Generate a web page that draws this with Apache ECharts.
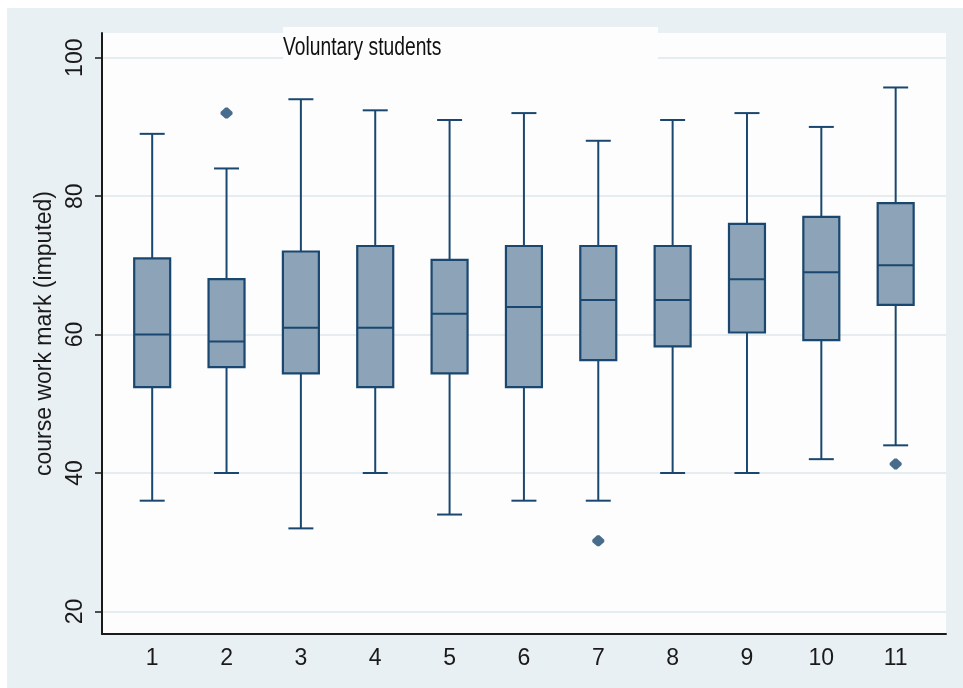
<!DOCTYPE html>
<html>
<head>
<meta charset="utf-8">
<title>Course work mark by group</title>
<script src="https://cdn.jsdelivr.net/npm/echarts@6/dist/echarts.min.js"></script>
<style>
  html, body { margin: 0; padding: 0; background: #ffffff; }
  #chart { position: absolute; left: 0; top: 0; width: 963px; height: 688px; }
</style>
</head>
<body>
<div id="chart"></div>
<script>
// Group numbers along the horizontal axis
const groups = [1, 2, 3, 4, 5, 6, 7, 8, 9, 10, 11];
// Five-number summaries per group (course work mark, imputed)
const lowerWhisker = [36, 40, 32, 40, 34, 36, 36, 40, 40, 42, 44];
const lowerQuartile = [52.4, 55.3, 54.4, 52.4, 54.4, 52.4, 56.3, 58.3, 60.3, 59.2, 64.3];
const medians = [60, 59, 61, 61, 63, 64, 65, 65, 68, 69, 70];
const upperQuartile = [71, 68, 72, 72.8, 70.8, 72.8, 72.8, 72.8, 76, 77, 79];
const upperWhisker = [89, 84, 94, 92.4, 91, 92, 88, 91, 92, 90, 95.7];
// Outside values: group and mark
const outlierGroups = [2, 7, 11];
const outlierMarks = [92, 30.2, 41.3];
// Y axis tick labels
const yTicks = [20, 40, 60, 80, 100];

const boxData = groups.map((g, i) => [
  g, lowerWhisker[i], lowerQuartile[i], medians[i], upperQuartile[i], upperWhisker[i]
]);
const outlierData = outlierGroups.map((g, i) => [g, outlierMarks[i]]);

const LINE = '#1a476f';
const FILL = '#8da3b7';

function renderBox(params, api) {
  const x = api.value(0);
  const lo = api.coord([x, api.value(1)]);
  const b1 = api.coord([x, api.value(2)]);
  const md = api.coord([x, api.value(3)]);
  const b3 = api.coord([x, api.value(4)]);
  const hi = api.coord([x, api.value(5)]);
  const boxW = api.size([0.484, 0])[0];
  const capW = api.size([0.336, 0])[0];
  const ls = { stroke: LINE, lineWidth: 2, fill: null };
  const cx = lo[0];
  return {
    type: 'group',
    children: [
      { type: 'line', shape: { x1: cx, y1: lo[1], x2: cx, y2: b1[1] }, style: ls },
      { type: 'line', shape: { x1: cx, y1: b3[1], x2: cx, y2: hi[1] }, style: ls },
      { type: 'line', shape: { x1: cx - capW / 2, y1: lo[1], x2: cx + capW / 2, y2: lo[1] }, style: ls },
      { type: 'line', shape: { x1: cx - capW / 2, y1: hi[1], x2: cx + capW / 2, y2: hi[1] }, style: ls },
      {
        type: 'rect',
        shape: { x: cx - boxW / 2, y: b3[1], width: boxW, height: b1[1] - b3[1] },
        style: { fill: FILL, stroke: LINE, lineWidth: 2.2 }
      },
      { type: 'line', shape: { x1: cx - boxW / 2, y1: md[1], x2: cx + boxW / 2, y2: md[1] }, style: ls }
    ]
  };
}

const chart = echarts.init(document.getElementById('chart'), null, { renderer: 'canvas' });

chart.setOption({
  animation: false,
  backgroundColor: '#e9f0f3',
  textStyle: { fontFamily: "'Liberation Sans', Arial, sans-serif" },
  graphic: [
    { type: 'rect', z: -10, silent: true, shape: { x: 0, y: 0, width: 963, height: 8 }, style: { fill: '#ffffff' } },
    { type: 'rect', z: -10, silent: true, shape: { x: 0, y: 0, width: 7, height: 688 }, style: { fill: '#ffffff' } },
    // title box sitting on top of the plot region
    { type: 'rect', z: 1, silent: true, shape: { x: 283, y: 27, width: 375, height: 34 }, style: { fill: '#fdfdfd' } },
    {
      type: 'text',
      z: 10,
      silent: true,
      x: 283,
      y: 35,
      scaleX: 0.74,
      style: {
        text: 'Voluntary students',
        font: "26px 'Liberation Sans', Arial, sans-serif",
        fill: '#111111',
        align: 'left',
        verticalAlign: 'top'
      }
    }
  ],
  grid: {
    left: 102,
    right: 17,
    top: 33,
    bottom: 54,
    show: true,
    backgroundColor: '#fdfdfd',
    borderWidth: 0
  },
  xAxis: {
    type: 'value',
    min: 0.325,
    max: 11.677,
    axisLine: { show: true, onZero: false, lineStyle: { color: '#1a1a1a', width: 2 } },
    axisTick: { show: false, customValues: groups },
    splitLine: { show: false },
    axisLabel: {
      customValues: groups,
      fontSize: 23,
      color: '#1a1a1a',
      margin: 13
    }
  },
  yAxis: {
    type: 'value',
    min: 16.74,
    max: 103.57,
    name: 'course work mark (imputed)',
    nameLocation: 'middle',
    nameRotate: 90,
    nameGap: 43,
    nameTextStyle: { fontSize: 23, color: '#1a1a1a' },
    axisLine: { show: true, onZero: false, lineStyle: { color: '#1a1a1a', width: 2 } },
    axisTick: { show: true, length: 7, customValues: yTicks, lineStyle: { color: '#1a1a1a', width: 1.5 } },
    splitLine: { show: true, lineStyle: { color: '#e6edf1', width: 2 } },
    axisLabel: {
      customValues: yTicks,
      rotate: 90,
      fontSize: 23,
      color: '#1a1a1a',
      margin: 15
    }
  },
  series: [
    {
      type: 'custom',
      name: 'course work mark',
      renderItem: renderBox,
      encode: { x: 0, y: [1, 2, 3, 4, 5] },
      data: boxData,
      z: 3
    },
    {
      type: 'scatter',
      name: 'outside values',
      data: outlierData,
      symbol: 'path://M4,0 L6,0 L10,4 L10,6 L6,10 L4,10 L0,6 L0,4 Z',
      symbolSize: [12, 11],
      itemStyle: { color: '#1a476f' },
      z: 4
    }
  ]
});
</script>
</body>
</html>
